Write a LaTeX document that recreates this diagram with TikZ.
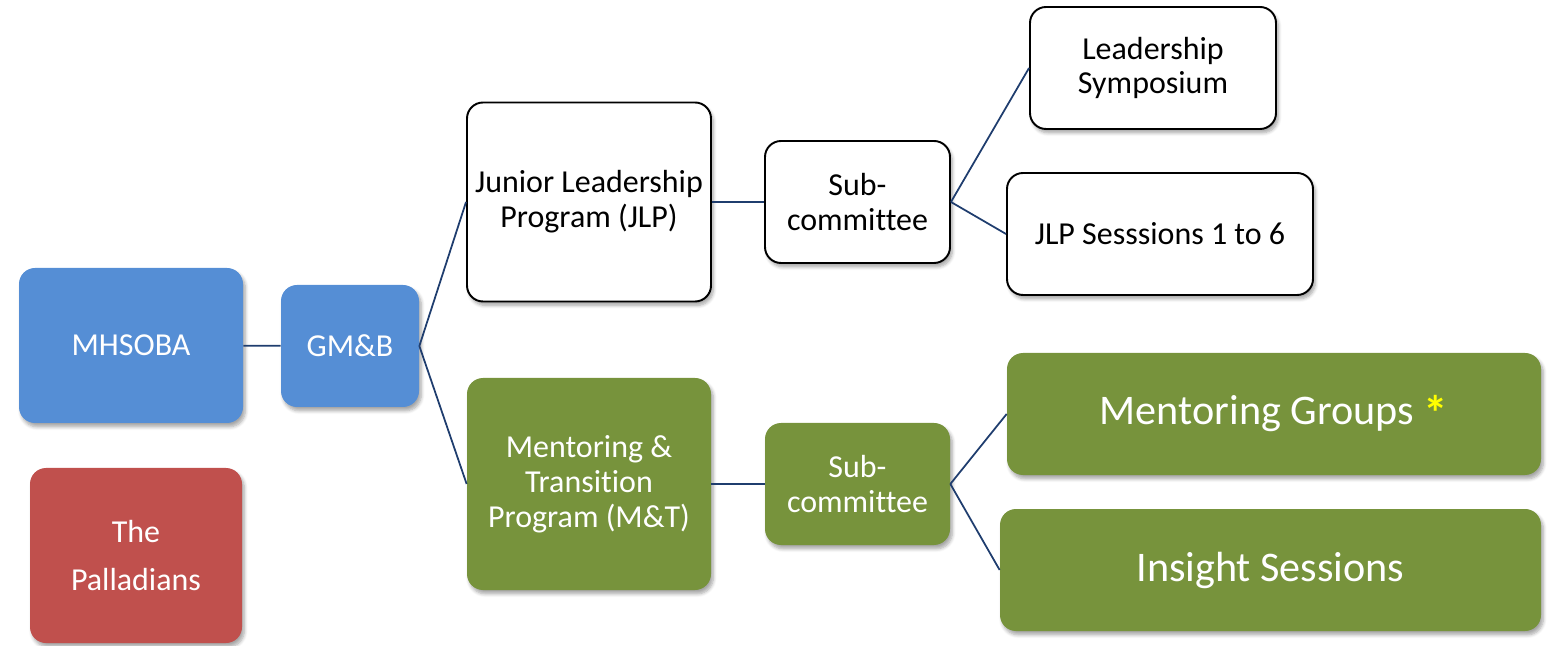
\documentclass[tikz,border=0pt]{standalone}
\usepackage{fontspec}
\setmainfont{Carlito}[Ligatures=NoCommon]
\usepackage{tikz}
\usetikzlibrary{shapes,positioning,shadows.blur}
\usepackage[dvipsnames]{xcolor}

\definecolor{orgblue}{HTML}{558ED5}
\definecolor{orgred}{HTML}{C0504D}
\definecolor{orggreen}{HTML}{77933C}
\definecolor{linknavy}{HTML}{1F3D6E}
\definecolor{staryellow}{HTML}{FFFF00}

\tikzset{
  unit/.style={rectangle, rounded corners=0.32cm, align=center, inner sep=2pt,
    font=\fontsize{18.2}{19.8}\selectfont,
    blur shadow={shadow xshift=1.3pt, shadow yshift=-2.2pt, shadow blur steps=6, shadow opacity=35}},
  blueunit/.style={unit, fill=orgblue, text=white},
  redunit/.style={unit, fill=orgred, text=white},
  greenunit/.style={unit, fill=orggreen, text=white},
  plainunit/.style={unit, draw=black, line width=1.1pt, fill=white, text=black},
  bigtext/.style={font=\fontsize{24}{28}\selectfont},
  link/.style={draw=linknavy, line width=1pt}
}

\begin{document}
\begin{tikzpicture}
\useasboundingbox (0,0) rectangle (31.06,12.9);

\node[blueunit, minimum width=4.48cm, minimum height=3.10cm] (MHSOBA) at (2.62,5.99) {MHSOBA};
\node[redunit, minimum width=4.24cm, minimum height=3.50cm, font=\fontsize{18.2}{27.2}\selectfont] (Palladians) at (2.72,1.79) {The\\Palladians};
\node[blueunit, minimum width=2.76cm, minimum height=2.44cm] (GMB) at (7.00,5.98) {GM\&B};
%============
\node[plainunit, minimum width=4.88cm, minimum height=3.98cm] (JLP) at (11.78,8.86) {Junior Leadership\\Program (JLP)};
\node[plainunit, minimum width=3.70cm, minimum height=2.44cm] (SubJLP) at (17.15,8.86) {Sub-\\committee};
\node[plainunit, minimum width=4.92cm, minimum height=2.44cm] (Symposium) at (23.06,11.54) {Leadership\\Symposium};
\node[plainunit, minimum width=6.12cm, minimum height=2.44cm] (Sessions) at (23.20,8.22) {JLP Sesssions 1 to 6};
%============
\node[greenunit, minimum width=4.88cm, minimum height=4.24cm] (MT) at (11.78,3.22) {Mentoring \&\\Transition\\Program (M\&T)};
\node[greenunit, minimum width=3.70cm, minimum height=2.44cm] (SubMT) at (17.15,3.22) {Sub-\\committee};
\node[greenunit, bigtext, minimum width=10.68cm, minimum height=2.44cm] (Groups) at (25.48,4.62) {Mentoring Groups {\color{staryellow}\bfseries\fontsize{28}{28}\selectfont\raisebox{-3pt}[0pt][0pt]{*}}};
\node[greenunit, bigtext, minimum width=10.82cm, minimum height=2.44cm] (Insight) at (25.41,1.50) {Insight Sessions};
%==========

\draw[link] (MHSOBA) -- (GMB);
\draw[link] (GMB.east) -- (JLP.west);
\draw[link] (GMB.east) -- (MT.west);

\draw[link] (JLP) -- (SubJLP);
\draw[link] (SubJLP.east) -- (Symposium.west);
\draw[link] (SubJLP.east) -- (Sessions.west);

\draw[link] (MT) -- (SubMT);
\draw[link] (SubMT.east) -- (Groups.west);
\draw[link] (SubMT.east) -- (Insight.west);

\end{tikzpicture}
\end{document}
